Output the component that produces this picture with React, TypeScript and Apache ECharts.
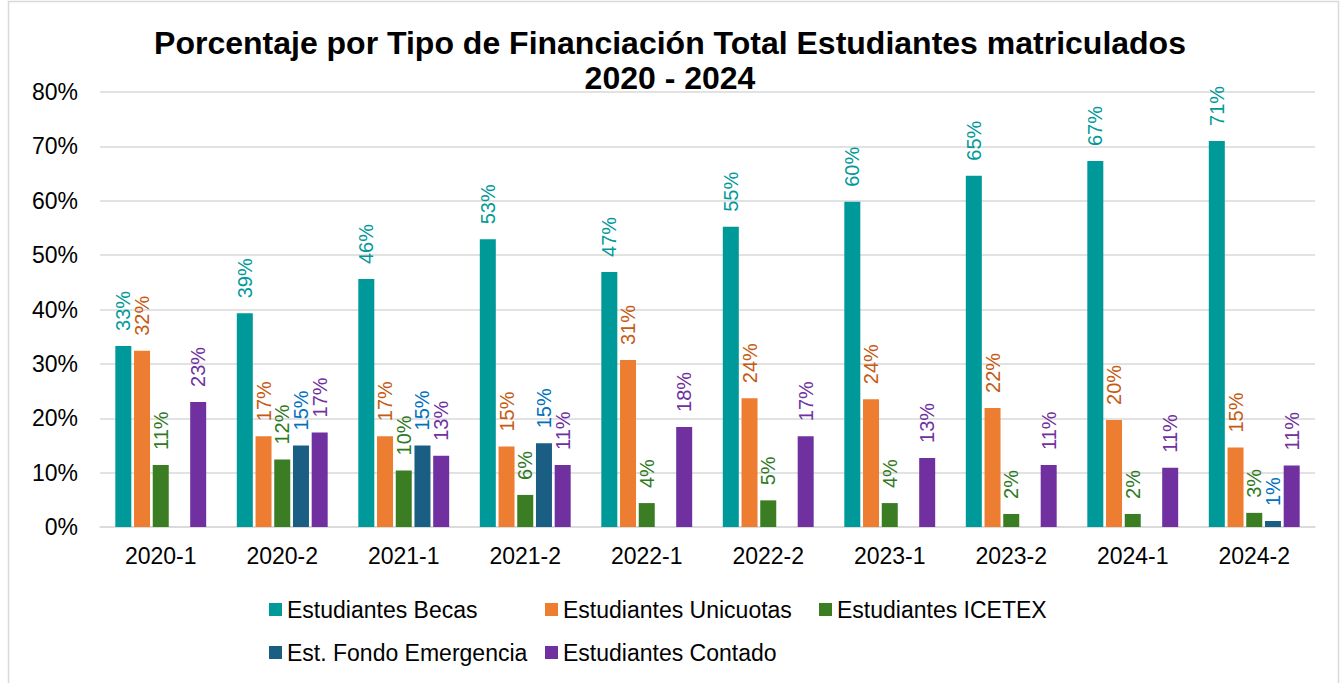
import React, { useEffect, useRef } from "react";
import * as echarts from "echarts";

const categories = ["2020-1", "2020-2", "2021-1", "2021-2", "2022-1", "2022-2", "2023-1", "2023-2", "2024-1", "2024-2"];
const becas = [33.3, 39.3, 45.6, 52.9, 46.9, 55.2, 59.8, 64.6, 67.3, 71.0];
const unicuotas = [32.4, 16.7, 16.7, 14.8, 30.7, 23.7, 23.5, 21.9, 19.7, 14.6];
const icetex = [11.4, 12.4, 10.4, 5.9, 4.4, 4.9, 4.4, 2.4, 2.4, 2.6];
const fondo = [null, 15.0, 15.0, 15.4, null, null, null, null, null, 1.1];
const contado = [23.0, 17.4, 13.1, 11.4, 18.4, 16.7, 12.7, 11.4, 10.9, 11.3];
const yTicks = { min: 0, max: 80, interval: 10 };

const seriesDefs = [
  { name: "Estudiantes Becas", data: becas, color: "#009999", labelColor: "#009999" },
  { name: "Estudiantes Unicuotas", data: unicuotas, color: "#ED7D31", labelColor: "#C55A11" },
  { name: "Estudiantes ICETEX", data: icetex, color: "#3B7D23", labelColor: "#2F7A1F" },
  { name: "Est. Fondo Emergencia", data: fondo, color: "#1B5E83", labelColor: "#0070C0" },
  { name: "Estudiantes Contado", data: contado, color: "#7030A0", labelColor: "#7030A0" },
];

const FONT = "'Liberation Sans', Arial, sans-serif";

export default function App() {
  const ref = useRef<HTMLDivElement>(null);
  useEffect(() => {
    if (!ref.current) return;
    const chart = echarts.init(ref.current, null, { renderer: "svg" });
    const legendPos = [
      { name: seriesDefs[0].name, left: 269, top: 598 },
      { name: seriesDefs[1].name, left: 545, top: 598 },
      { name: seriesDefs[2].name, left: 819, top: 598 },
      { name: seriesDefs[3].name, left: 269, top: 641 },
      { name: seriesDefs[4].name, left: 545, top: 641 },
    ];
    chart.setOption({
      animation: false,
      backgroundColor: "#ffffff",
      title: {
        text: "Porcentaje por Tipo de Financiación Total Estudiantes matriculados\n2020 - 2024",
        left: "center",
        top: 20,
        textStyle: {
          fontFamily: FONT,
          fontSize: 32,
          fontWeight: "bold",
          color: "#000000",
          lineHeight: 35,
          align: "center",
        },
      },
      graphic: [
        {
          type: "rect",
          shape: { x: 8.5, y: 1.5, width: 1330, height: 700 },
          style: { fill: "none", stroke: "#d9d9d9", lineWidth: 1.5 },
          silent: true,
        },
      ],
      legend: legendPos.map((l) => ({
        data: [l.name],
        left: l.left,
        top: l.top,
        padding: 0,
        itemWidth: 13,
        itemHeight: 13,
        icon: "rect",
        textStyle: { fontFamily: FONT, fontSize: 23, color: "#000000" },
      })),
      grid: { left: 100, right: 25, top: 92, bottom: 156 },
      xAxis: {
        type: "category",
        data: categories,
        axisTick: { show: false },
        axisLine: { lineStyle: { color: "#d9d9d9", width: 1.5 } },
        axisLabel: { fontFamily: FONT, fontSize: 23, color: "#000000", margin: 17 },
      },
      yAxis: {
        type: "value",
        min: yTicks.min,
        max: yTicks.max,
        interval: yTicks.interval,
        axisLine: { show: false },
        axisTick: { show: false },
        splitLine: { lineStyle: { color: "#d9d9d9", width: 1.5 } },
        axisLabel: { fontFamily: FONT, fontSize: 23, color: "#000000", margin: 22, formatter: "{value}%" },
      },
      series: seriesDefs.map((s) => ({
        name: s.name,
        type: "bar",
        data: s.data,
        barWidth: 16,
        barGap: "17%",
        itemStyle: { color: s.color },
        label: {
          show: true,
          position: "top",
          rotate: 90,
          align: "left",
          verticalAlign: "middle",
          distance: 15,
          fontFamily: FONT,
          fontSize: 20,
          color: s.labelColor,
          formatter: (p: any) => Math.round(p.value) + "%",
        },
      })),
    });
    return () => chart.dispose();
  }, []);
  return (
    <div
      ref={ref}
      style={{ position: "absolute", left: 0, top: 0, width: 1340, height: 683 }}
    />
  );
}
